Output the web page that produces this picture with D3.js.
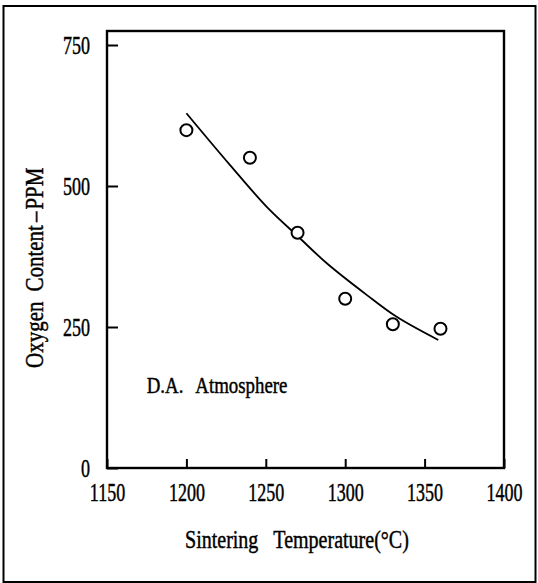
<!DOCTYPE html>
<html>
<head>
<meta charset="utf-8">
<script src="https://cdn.jsdelivr.net/npm/d3@7"></script>
<style>
  body { margin: 0; background: #fff; }
  svg { display: block; }
  text { font-family: "Liberation Serif", "Times New Roman", serif; fill: #000; stroke: #000; stroke-width: 0.45px; }
</style>
</head>
<body>
<svg id="chart" width="538" height="583"></svg>
<script>
// measured points (sintering temperature vs oxygen content)
var tempC = [1200, 1240, 1270, 1300, 1330, 1360];
var oxygenPpm = [599, 550, 417, 300, 255, 247];

// hand drawn trend curve
var fitTemp = [1200, 1227.5, 1250.6, 1270.5, 1288.4, 1313.5, 1332.4, 1358.6];
var fitPpm = [629, 537, 463, 410, 363, 307, 268, 227];

var xTicks = [1150, 1200, 1250, 1300, 1350, 1400];
var yTicks = [0, 250, 500, 750];

var xTitle = ["Sintering", "Temperature(°C)"];
var yTitle = ["Oxygen", "Content", "–", "PPM"];
var noteText = ["D.A.", "Atmosphere"];

var svg = d3.select("#chart");
var plot = {left: 107, right: 504, top: 31, bottom: 468};

var x = d3.scaleLinear().domain([1150, 1400]).range([plot.left, plot.right]);
var y = d3.scaleLinear().domain([0, 750]).range([plot.bottom, 45]);

// outer border of the figure
svg.append("rect")
    .attr("x", 3.5).attr("y", 6)
    .attr("width", 532).attr("height", 576)
    .attr("fill", "none").attr("stroke", "#000").attr("stroke-width", 2);

// plot box
svg.append("rect")
    .attr("x", plot.left).attr("y", plot.top)
    .attr("width", plot.right - plot.left).attr("height", plot.bottom - plot.top)
    .attr("fill", "none").attr("stroke", "#000").attr("stroke-width", 2.4);

var tickSx = 0.72;

var gx = svg.append("g")
    .attr("transform", "translate(0," + plot.bottom + ")")
    .call(d3.axisBottom(x).tickValues(xTicks).tickSizeInner(-9).tickSizeOuter(0).tickPadding(15).tickFormat(d3.format("d")));
gx.select(".domain").remove();
gx.selectAll(".tick line").attr("stroke", "#000").attr("stroke-width", 2);
gx.selectAll(".tick text")
    .attr("font-size", 25).attr("font-family", null)
    .attr("transform", "scale(" + tickSx + ",1)");

var gy = svg.append("g")
    .attr("transform", "translate(" + plot.left + ",0)")
    .call(d3.axisLeft(y).tickValues(yTicks).tickSizeInner(-11).tickSizeOuter(0).tickPadding(17).tickFormat(d3.format("d")));
gy.select(".domain").remove();
gy.selectAll(".tick line").attr("stroke", "#000").attr("stroke-width", 2);
gy.selectAll(".tick text")
    .attr("font-size", 25).attr("font-family", null)
    .attr("x", -17 / tickSx)
    .attr("transform", "scale(" + tickSx + ",1)");

// trend curve
var pts = fitTemp.map(function(t, i){ return [t, fitPpm[i]]; });
var line = d3.line()
    .x(function(d){ return x(d[0]); })
    .y(function(d){ return y(d[1]); })
    .curve(d3.curveCatmullRom.alpha(0.5));

svg.append("path")
    .datum(pts)
    .attr("d", line)
    .attr("fill", "none").attr("stroke", "#000").attr("stroke-width", 1.8);

// open circles
svg.append("g").selectAll("circle")
    .data(tempC)
    .enter().append("circle")
    .attr("cx", function(d){ return x(d); })
    .attr("cy", function(d, i){ return y(oxygenPpm[i]); })
    .attr("r", 6)
    .attr("fill", "#fff").attr("stroke", "#000").attr("stroke-width", 2);

// condensed text with word gaps
function wordText(tx, rot, sx, size, words, gaps) {
    var t = svg.append("text")
        .attr("transform", tx + (rot ? " rotate(" + rot + ")" : "") + " scale(" + sx + ",1)")
        .attr("font-size", size);
    words.forEach(function(w, i){
        t.append("tspan").attr("dx", i === 0 ? 0 : gaps[i - 1] / sx).text(w);
    });
    return t;
}

wordText("translate(185,548)", 0, 0.77, 26, xTitle, [15]);
wordText("translate(43,368)", -90, 0.84, 25, yTitle, [10, 3, 2]);
wordText("translate(146.7,393)", 0, 0.82, 23, noteText, [12]);
</script>
</body>
</html>
